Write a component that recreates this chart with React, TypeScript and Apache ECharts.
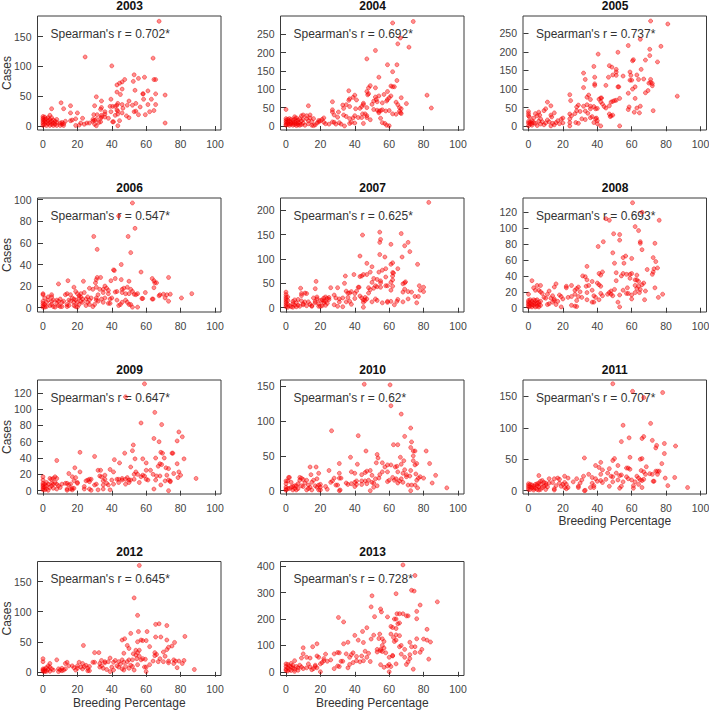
import React, { useEffect, useRef } from "react";
import * as echarts from "echarts";

const xTicks = [0, 20, 40, 60, 80, 100];
const years = ["2003","2004","2005","2006","2007","2008","2009","2010","2011","2012","2013"];
const rhoLabels = ["Spearman's r = 0.702*","Spearman's r = 0.692*","Spearman's r = 0.737*","Spearman's r = 0.547*","Spearman's r = 0.625*","Spearman's r = 0.693*","Spearman's r = 0.647*","Spearman's r = 0.62*","Spearman's r = 0.707*","Spearman's r = 0.645*","Spearman's r = 0.728*"];
const yTicks = [[0,50,100,150],[0,50,100,150,200,250],[0,50,100,150,200,250],[0,20,40,60,80,100],[0,50,100,150,200],[0,20,40,60,80,100,120],[0,20,40,60,80,100,120],[0,50,100,150],[0,50,100,150],[0,50,100,150],[0,100,200,300,400]];
const yRanges = [[-6.7,184.8],[-11,300],[-10,296.5],[-4,101.6],[-8.8,225],[-5.4,138],[-4.1,135.7],[-4.8,159],[-5.3,176],[-6,183.5],[-14,418]];

const p2003 = [[67.5,176],[24.5,116],[40,101],[64,114],[53,86],[59,82],[55.5,80],[52.5,75],[64.5,78],[65.5,78],[47.5,78],[46,74],[44.5,72],[43,69],[46,62],[53.5,60],[61,59],[43,57],[45,53],[58,54],[58.3,54],[65.5,54],[71,52],[31,49],[39.5,45],[34,42],[58.5,45],[63,45],[50,42],[10.5,39],[54,38],[49,35],[52,35],[61,36],[65.5,36],[43.5,38],[46,36],[43,35],[5,29],[12,29],[16,34],[30,34],[39,33],[40.5,33],[42,33],[34,31],[46.5,30],[56.5,32],[33.5,28],[43,27],[43.5,25],[53,24],[54,25],[64.5,26],[62,24],[16,22],[20,22],[36,24],[39.5,24],[36,20],[46,22],[59.5,19],[55.5,19],[29.5,19],[31.5,19],[34,18],[42,18],[43.5,20],[48.5,17],[50,14],[34,15],[36,15],[38,13],[33.5,13],[31,11],[29,11],[23,13],[19,12],[16,9],[17,10],[13,8],[33.5,7],[32.5,6],[44.5,9],[40.5,7],[41,7],[71,5],[43.5,0.5],[31,0.5],[30,3],[19,1],[21,1.5],[22,5],[24,3],[25.5,5],[27,5],[29,8],[30,10],[0,16],[0,13],[0,10],[0,7],[0,4],[0,1],[1,15],[1,11],[1,8],[1,3],[2,12],[2,6],[2,1],[3,14],[3,9],[3,4],[4,18],[4,11],[4,6],[4,1],[5,14],[5,8],[5,3],[6,10],[6,5],[6,1],[7,8],[7,3],[8,11],[8,6],[8,1],[10,5],[10,1],[11,3],[11,6],[12,1],[12,4]];
const p2004 = [[74,285],[62,281],[71.5,215],[65,224],[66.5,240],[52,206],[47,183],[59,167],[64.5,167],[62,148],[54,133],[64.5,124],[82,84],[84.5,49],[61,109],[62,107],[63,107],[49,110],[48,104],[52,104],[36.5,96],[47,94],[48,88],[47.5,85],[59,94],[57,86],[61,82],[67,77],[40,84],[39,78],[37,74],[36.5,70],[41,71],[27,66],[60,77],[59,72],[58.5,68],[54,82],[52,79],[52.5,72],[51,68],[50,59],[53,66],[56,63],[64,65],[65,58],[70,61],[45,62],[45,58],[47,50],[37,53],[35,58],[33,57],[33.5,48],[40.5,47],[43,48],[44,53],[66,50],[67,47],[13,55],[0,45],[27,44],[27,38],[28,30],[30,24],[30.5,38],[33.5,30],[35,26],[37,20],[39,22],[40,28],[42,23],[44,23],[44.5,33],[46,33],[47,28],[47,23],[49,17],[51,45],[53,43],[54,40],[55,42],[54,36],[56,44],[58,41],[60,42],[62,33],[64,32],[66,40],[66.5,36],[67,34],[55,21],[56,9],[57.5,7],[58.5,2],[60,0.5],[45,7],[34,0],[32,5],[37,7],[38,10],[40,8],[27,11],[28,10],[22,22],[21,18],[19,15],[22,10],[23,6],[25,5],[29,5],[31,9],[0,20],[0,15],[0,10],[0,5],[0,2],[1,18],[1,12],[1,8],[1,4],[2,20],[2,14],[2,6],[2,2],[3,18],[3,10],[3,5],[4,15],[4,8],[4,2],[5,25],[5,19],[5,10],[5,4],[6,22],[6,14],[6,7],[6,1],[7,16],[7,10],[7,3],[8,20],[8,8],[8,2],[9,28],[9,14],[9,4],[10,30],[10,18],[10,8],[11,2],[12,28],[12,20],[13,14],[13,6],[14,30],[14,22],[15,2],[15,12],[16,20],[16,1],[17,3],[18,8],[19,11],[20,14]];
const p2005 = [[71,283],[81,275],[65,234],[58,217],[77,215],[70.5,207],[52,199],[40.5,194],[70.5,190],[75,173],[68,178],[61,179],[60.5,176],[38,161],[47,163],[48.5,159],[51,153],[51,146],[65.5,153],[59,146],[32,143],[49,138],[51,137],[55,135],[59.5,137],[63,138],[33,126],[38.5,132],[46.5,132],[59,124],[60,124],[64,126],[67,127],[71,126],[71,118],[70,116],[72,109],[72,115],[38.5,114],[38.5,110],[45,110],[52,106],[52.5,106],[62,106],[60.5,100],[32,104],[58,89],[68,90],[69.5,96],[86.5,81],[24,85],[34,78],[35,84],[24.5,69],[36,72],[41,73],[42,76],[42.5,76],[62,75],[53,75],[51,70],[50,69],[48,65],[49,67],[42,66],[43,60],[44,53],[47,55],[45,49],[38,53],[36,54],[34,58],[32,54],[29,57],[28,52],[11,65],[13,55],[10,47],[9,42],[6,38],[4,34],[6.5,30],[13,30],[13.5,25],[15,36],[0,40],[0,34],[0,28],[0.5,25],[2,15],[3,22],[5,28],[39,47],[36,47],[40,48],[33,41],[28,42],[30,40],[27,34],[24,33],[25,28],[24,20],[27.5,10],[29,8],[31,20],[33,18],[34.5,35],[37,26],[39,20],[36,23],[39.5,22],[40,15],[38,10],[40,7],[42,1],[53,1],[47,33],[48,28],[49,30],[47.5,26],[58,45],[58.5,52],[61.5,38],[64.5,36],[63,49],[65,54],[72.5,42],[24,10],[24,1],[20,22],[19,19],[17,15],[20,9],[18,7],[16,10],[15,4],[14,8],[13,1],[12,12],[11,17],[10,9],[9,4],[8,12],[7,20],[7,6],[6,14],[5,2],[4,8],[3,10],[2,3],[1,12],[1,6],[0,1],[0,8],[0,13],[2,8]];
const p2006 = [[52,97],[44,85],[53.5,73.5],[29.5,66],[49.5,66],[31.5,54],[51,51],[45.5,40],[41,35],[41.5,34.5],[57,33],[42,27],[31.5,28],[33.5,28],[31,26],[30.5,23],[14.5,25],[23.5,24.5],[9,22],[39.5,25],[45.5,26],[50,24.5],[63.5,27],[64.5,25],[65,23],[66,23],[73,28],[64.5,18.5],[68,12],[70,12.5],[72,12],[74,12.5],[86.5,13],[80.5,9],[71,9],[73,6],[59.5,14],[58,8.5],[63.5,8],[64,8],[67.5,11],[55,13],[53,12.5],[54,12],[52,15],[51,17],[49,19],[47,18],[46,17],[46,14],[48,13],[50,13],[43,15],[42,14.5],[37,18],[38,16],[36,20],[35,17],[38,13],[35,14],[33,17],[31,19],[29,17],[27,18],[24,14],[22,13],[21,11],[19,15],[18,19],[20,13],[16,12],[14,13],[13,12],[5,12],[0,13],[0,12],[1,9],[3,10],[5,10],[6,7],[8,7],[9,6],[10,8],[11,5],[14,1],[14,3],[15,2],[16,6],[18,5],[18,2],[19,1],[20,0.5],[21,3],[22,6],[23,8],[25,8],[26,5],[27,3],[28,9],[26,10],[27,7],[25,2],[29,1],[30,3],[31,9],[32,6],[31,7],[32,12],[34,8],[35,5],[36,9],[38,4],[39,4],[40,9],[39,8],[43,7],[44,2],[45,3],[46,5],[48,7],[49,5],[50,3],[51,3],[52,0.5],[55,0.5],[57.5,8.5],[0,0.5],[0,2],[0,4],[0,6],[1,0.5],[1,3],[2,1],[2,5],[3,7],[4,2],[5,3],[5,6],[6,1],[7,0.5],[8,4],[9,2],[10,1],[11,1],[12,6],[15,7],[17,9],[18,8],[19,7],[20,5],[21,9],[22,10],[23,5]];
const p2007 = [[83,216],[54.5,155],[67,152],[44.5,149],[55,140],[71,134],[54.5,134],[61,130],[69,127],[72,115],[54.5,109],[43,106],[57.5,104],[67.5,104],[47,91],[62,92],[61,89],[76.5,89],[50,84],[58,80],[65,80],[56,77],[54,73],[49,73],[62,72],[62.5,71],[62,65],[58,63],[34.5,65],[39.5,68],[43,64],[44,65],[45,68],[47,68],[51,60],[53,58],[55,55],[55,51],[62,57],[61,52],[68,49],[69,51],[69.5,53],[17.5,54],[34,50],[50,52],[52,45],[58,45],[59,45],[62,44],[77.5,45],[8.5,40],[26,41],[30,41],[17,39],[42,42],[42.5,42],[48,41],[51,40],[53,43],[55,42],[61,36],[68,32],[69,38],[71,33],[73,32],[78,36],[80,42],[80,33],[75,23],[77,23],[76,10],[71,18],[68,12],[64.5,13],[65,17],[63,6],[61,13],[56,10],[59,11],[59,13],[52,18],[53,15],[50,12],[47,18],[45,16],[45,11],[45,1],[46,15],[43,24],[40,29],[38,33],[36,30],[35,34],[36,21],[33,20],[37,13],[38,7],[33,2],[31,12],[31,18],[29,20],[28,26],[30,3],[28,6],[25,17],[23,22],[24,19],[22,10],[23,5],[20,15],[21,16],[18,22],[18,18],[17,10],[19,3],[20,3],[15,4],[13,12],[12,4],[12,29],[11,30],[9,29],[9,25],[10,8],[8,3],[7,17],[6,10],[5,5],[5,16],[4,13],[4,8],[3,2],[1,22],[0,32],[0,27],[0,22],[0,18],[0,14],[0,10],[0,6],[0,2],[1,15],[1,7],[1,1],[2,4],[4,1],[6,2],[7,5],[9,14],[10,6],[11,12],[14,7],[15,3],[16,20],[17,13],[19,8],[21,4],[23,13],[24,9],[25,21],[22,20],[22,14],[48,30],[40,19],[41,34],[44,20],[49,37],[35,12],[37,30],[46,21]];
const p2008 = [[60.5,132],[66,120],[76,110],[45,112],[47,110],[62,102],[64,97],[49.5,93],[53,92],[53,85],[43.5,83],[65,83],[65,81],[73.5,81],[40.5,77],[66,73],[49,69],[72.5,63],[55,63],[56.5,65],[60,62],[74,58],[34,52],[50,56],[55.5,56],[73,49],[69,48],[75,50],[72.5,45],[72,42],[41,43],[42,41],[43,45],[51,44],[55,43],[54,40],[57,42],[59,42],[60,43],[63,41],[31.5,40],[33,39],[34,35],[59,37],[62,35],[63,35],[64,33],[51,34],[67,31],[66,29],[64,27],[62,28],[40,31],[41,29],[42,27],[37,33],[35,28],[33.5,27],[29,26],[28,24],[27,22],[30,20],[25,28],[22,27],[22,25],[16,30],[15,26],[2,34],[5,28],[4,22],[7,28],[3,25],[6,22],[7,20],[8,18],[0,17],[12,21],[11,17],[9,13],[14,15],[18,16],[19,14],[20,11],[23,13],[25,14],[27,17],[29,14],[31,13],[34,19],[34,10],[37,22],[38,15],[37,7],[38,7],[42,18],[43,15],[47,19],[48,21],[46,17],[48,17],[49,15],[50,23],[53,16],[55,22],[57,18],[57.5,25],[58,18],[60,16],[60,11],[62,19],[63,24],[64.5,19],[65,23],[68,21],[67.5,10],[75.5,13],[78,17],[73.5,25],[52,7],[53,1],[25,3],[27,2],[28,1.5],[28,9],[19,1],[13,12],[12,5],[11,4],[15,11],[15,9],[14,7],[16,4],[17,8],[0,1],[0,3],[0,5],[0,7],[0,9],[1,2],[1,6],[1,10],[2,1],[2,4],[2,8],[3,3],[3,6],[3,10],[4,1],[4,5],[4,9],[5,2],[5,6],[5,10],[6,1],[6,4],[6,7],[7,3],[7,8],[10,12],[39,13],[41,10]];
const p2009 = [[59,131],[48,115],[65,96],[57,83],[69,81],[79,72],[81,66],[64.5,64],[67.5,60],[78,61],[52.5,56],[21.5,47],[8,37],[30,42],[47.5,46],[52,49],[68.5,47],[69.5,46],[75,46],[75.5,46],[82,39],[41.5,38],[44.5,34],[53.5,39],[58,39],[60,34],[65.5,40],[70.5,40],[78,33],[51,29],[39,26],[41,23],[32,25],[33.5,25],[18.5,28],[21.5,23],[15,21],[17,17],[19,16],[13,9],[16,8],[18,12],[20,10],[62.5,25],[60,25],[54,23],[55,20],[53,20],[67,30],[68,33],[69,32],[71.5,28],[73,27],[76,21],[79,23],[80,19],[78.5,16],[72,19],[73,13],[74,11],[73,0],[64.5,2],[68.5,7],[89,15],[66,18],[68,18],[65.5,13],[60,14],[57,17],[58,19],[59,18],[61,13],[56,10],[53,14],[51,13],[49,16],[48,8],[50,13],[46,15],[44,14],[43,14],[44,10],[40,13],[41,8],[37,9],[38,7],[39,1],[36,14],[34,17],[35,12],[33,18],[36,19],[35,7],[35,2],[32,1],[31,8],[30,7],[28,14],[27,11],[27,14],[25,12],[26,13],[24,5],[24,2],[27,2],[28,0.5],[20,9],[18,3],[17,1],[14,2],[14,0.5],[14,9],[11,8],[8,8],[9,6],[8,15],[7,17],[6,15],[4,15],[5,14],[0,17],[0,13],[0,9],[0,7],[0,5],[0,3],[0,1],[1,8],[1,4],[1,1],[2,6],[2,2],[2,10],[3,8],[3,0.5],[4,4],[5,9],[5,6],[6,8],[6,3],[7,10],[8,2],[10,4],[15,7],[16,2],[17,3],[71,12],[74,12],[64,20],[46,13],[48,14],[50,10]];
const p2010 = [[45.5,153],[60.5,152],[61,122],[67,110],[72.5,90],[26.5,86],[42,79],[69,78],[73,70],[72.5,62],[74,57],[75,57],[46.5,57],[62.5,66],[65,66],[81.5,57],[53,52],[53.5,47],[37.5,48],[66.5,48],[74,50],[74,43],[76,39],[75,37],[83.5,39],[31,39],[41.5,38],[52.5,40],[56,40],[59,37],[61,37],[63.5,34],[64.5,35],[67,38],[68.5,43],[14,34],[17.5,34],[57.5,34],[25,29],[38,27],[40,25],[19,25],[14.5,23],[44,23],[46,26],[47,28],[49,29],[54.5,23],[56,27],[59,27],[65,27],[68,25],[69,30],[70,23],[72.5,29],[75.5,24],[72,21],[70,20],[87,22],[85,11],[93.5,4],[80,18],[78,20],[76,15],[77,18],[73,8],[75,8],[76.5,4],[72.5,0],[71,8],[68,12],[66,14],[67,17],[65,11],[64,17],[62,19],[63,15],[60,15],[59,13],[54,18],[52,17],[51,11],[50,12],[51,5],[49,0],[53,7],[50,22],[48,15],[46,14],[47,10],[44,14],[44,9],[41,9],[40,6],[40,12],[41,14],[38,10],[36,9],[35,11],[31,0],[31.5,1],[30,8],[29,8],[31,18],[32,18],[31,25],[28,18],[27,14],[26,12],[24,2],[23,6],[20,9],[20,1],[20,5],[18,5],[17,7],[18,17],[16,15],[15,12],[15,1],[14,5],[13,8],[12,15],[11,11],[10,6],[10,16],[9,18],[8,19],[8,15],[7,10],[7,3],[6,1],[6,7],[5,3],[5,7],[4,1],[4,6],[3,12],[3,5],[2,19],[1.5,19],[1,14],[1,3],[0,14],[0,10],[0,5],[0,2],[2,3],[0,0.5],[9,7],[12,1],[13,3],[19,8],[19,1]];
const p2011 = [[49,170],[60.5,158],[67,148],[78,156],[55,104],[71,107],[58.5,84],[66,83],[67,86],[54,78],[72,80],[79,75],[74.5,72],[74,68],[85.5,71],[79,59],[32.5,52],[50,51],[49,48],[59,53],[65,50],[66,51],[42,45],[39,40],[41,37],[43,33],[47,35],[52,40],[77.5,43],[57,36],[58,36],[59,34],[65.5,32],[67,30],[68,26],[68.5,38],[70.5,27],[72,26],[74,31],[75,31],[76,31],[75,26],[79.5,20],[85,21],[81,8],[92.5,5],[72.5,15],[73,15],[42,26],[35,26],[37,21],[39,19],[32,23],[31,17],[30,12],[29,7],[32.5,0],[33,0.5],[36,5],[37,12],[38,8],[38,5],[40,15],[42,16],[43,13],[45,18],[46,28],[48,23],[49,22],[49,14],[47,7],[51,28],[53,24],[54,25],[52,17],[53,4],[54,7],[55,14],[57,22],[58,19],[60,17],[61,8],[62,14],[63,23],[64,20],[65,17],[66,16],[67,18],[64,10],[61,4],[66,5],[6,24],[12,19],[15,19],[17,20],[18,18],[21,23],[23,20],[26,14],[28,19],[21,13],[22,10],[23,5],[22,3],[20,10],[18,12],[16,8],[15,3],[15,1],[14,13],[12,12],[11,6],[10,2],[10,9],[9,13],[8,16],[8,5],[7,10],[7,15],[6,1],[6,6],[6,12],[5,8],[5,2],[4,10],[4,4],[3,7],[3,1],[2,5],[2,9],[1,10],[1,6],[1,2],[0,11],[0,8],[0,5],[0,2],[10,12],[9,7],[7,2],[5,11],[3,4],[21,5],[19,7],[29,5]];
const p2012 = [[56,177],[53,123],[55,94],[65.5,79],[67.5,80],[72,77],[23.5,44],[55.5,67],[60.5,67],[51,64],[82.5,59],[65.5,58],[68.5,58],[72,53],[46,53],[47.5,55],[55,50],[57,53],[58,52],[60,52],[62,42],[49,44],[50,39],[52.5,30],[54,36],[56,36],[55,32],[30,32],[32.5,32],[47,31],[54,28],[56,26],[54.5,22],[58,22],[59.5,21],[65,32],[66,29],[70,33],[72,37],[75,43],[76.5,49],[73,41],[71,26],[68,22],[67,17],[70,17],[73,15],[73,18],[76,20],[77,18],[76,14],[79,18],[82,19],[81,14],[78,7],[88,4],[60,0.5],[62,12],[64,18],[65,27],[60,8],[59,8],[57,20],[55,12],[52,9],[51,11],[53,3],[50,6],[49,17],[46,20],[47,16],[44,17],[42,19],[41,16],[39,23],[38,17],[36,15],[36,17],[34,19],[33,14],[33,8],[35,6],[37,4],[39,0.5],[40,8],[41,3],[44,8],[46,5],[47,3],[48,9],[30,16],[29,16],[27,9],[26,6],[27,2],[24,9],[23,5],[23,14],[22,8],[21,16],[20,10],[20,6],[18,7],[19,3],[17,10],[15,10],[14,16],[13,14],[13,5],[11,2],[11,6],[10,3],[9,0.5],[8,20],[9,5],[4,14],[4,8],[3,10],[3,4],[2,1],[2,7],[1,2],[1,5],[0,22],[0,17],[0,3],[0,1],[4,1],[5,5],[6,3],[25,11],[26,2],[34,10],[43,10],[45,13],[0,5],[1,0.5],[12,3],[50,20],[52,20]];
const p2013 = [[68,405],[75,365],[73,309],[74.5,306],[64,296],[50,288],[88,265],[78,253],[49.5,246],[55,238],[55.5,227],[76,229],[63,200],[64,200],[66,220],[64.5,220],[68,220],[70,212],[71,212],[76,201],[51.5,209],[59,208],[30.5,206],[33.5,189],[47,167],[44.5,153],[62,168],[61,172],[64,164],[66,185],[65,182],[40,138],[42,120],[45,111],[49.5,124],[51,139],[54,126],[54.5,143],[61,143],[64,140],[66,137],[62.5,130],[64,120],[63,115],[56,125],[57,115],[76,125],[80,124],[82,161],[82,120],[84,113],[72,112],[73,95],[75,95],[75,73],[78,74],[79,85],[83,48],[10,91],[15.5,95],[18,106],[33.5,106],[36,112],[30,73],[31,72],[28,68],[35,68],[38,65],[39,72],[37,55],[41,58],[44,60],[46,78],[48,70],[49,39],[53,85],[53,75],[55,80],[55,85],[56,77],[58,72],[56,100],[57,90],[66,95],[67,100],[69,85],[62,60],[60,55],[61,20],[62,62],[64,30],[67,67],[70,28],[71,38],[72,50],[72,65],[69,55],[74,10],[60,0],[59,22],[57,17],[55,27],[60,28],[20,0],[17,20],[18,60],[19,55],[23,67],[24,40],[22,50],[21,35],[26,45],[28,12],[30,22],[31,20],[32,40],[33,40],[36,15],[37,28],[39,35],[41,42],[43,38],[45,42],[47,55],[10,68],[12,55],[14,52],[9,52],[5,42],[3,32],[0,30],[0,20],[0,10],[0,5],[1,28],[1,15],[2,22],[2,8],[3,5],[4,15],[4,25],[5,10],[6,20],[7,15],[8,25],[9,18],[10,12],[12,15],[13,30],[14,18],[15,8],[16,12],[17,25],[18,15],[20,30],[22,42],[1,3],[3,18],[5,2],[7,6]];
const allPoints = [p2003,p2004,p2005,p2006,p2007,p2008,p2009,p2010,p2011,p2012,p2013];

const colLeft = [37.5, 280.5, 523];
const rowTop = [16, 198, 380, 561.5];
const plotW = 183.5;
const plotH = 114;
const font = "'Liberation Sans', Arial, sans-serif";
const inkAxis = "#3a3a3a";
const inkText = "#333";

export default function App() {
  const ref = useRef<HTMLDivElement>(null);
  useEffect(() => {
    document.body.style.margin = "0";
    const chart = echarts.init(ref.current!, null, { renderer: "svg" });
    const grid: any[] = [], xAxis: any[] = [], yAxis: any[] = [], series: any[] = [], graphic: any[] = [];
    years.forEach((year, i) => {
      const col = i % 3, row = Math.floor(i / 3);
      const left = colLeft[col], top = rowTop[row];
      grid.push({ left, top, width: plotW, height: plotH, show: true, borderColor: inkAxis, borderWidth: 1, backgroundColor: "#fff", containLabel: false, outerBoundsMode: "none" });
      const showX = i >= 8;
      const showY = col === 0;
      xAxis.push({
        type: "value", gridIndex: i, min: -3.2, max: 103.5, splitLine: { show: false },
        axisLine: { show: false },
        axisTick: { show: true, length: 5, customValues: xTicks, lineStyle: { color: inkAxis, width: 1 } },
        axisLabel: { show: true, customValues: xTicks, margin: 8, fontFamily: font, fontSize: 10.5, color: "#444" },
        name: showX ? "Breeding Percentage" : "", nameLocation: "middle", nameGap: 21, nameMoveOverlap: false,
        nameTextStyle: { fontFamily: font, fontSize: 12, color: inkText },
      });
      yAxis.push({
        type: "value", gridIndex: i, min: yRanges[i][0], max: yRanges[i][1], splitLine: { show: false },
        axisLine: { show: false },
        axisTick: { show: true, length: 5, customValues: yTicks[i], lineStyle: { color: inkAxis, width: 1 } },
        axisLabel: { show: true, customValues: yTicks[i], margin: 6, fontFamily: font, fontSize: 10.5, color: "#444" },
        name: showY ? "Cases" : "", nameLocation: "middle", nameGap: 25, nameMoveOverlap: false,
        nameTextStyle: { fontFamily: font, fontSize: 12, color: inkText },
      });
      series.push({
        type: "scatter", xAxisIndex: i, yAxisIndex: i, data: allPoints[i], symbol: "circle", symbolSize: 4, clip: false, silent: true,
        itemStyle: { color: "rgba(255,0,0,0.55)", borderColor: "rgba(235,0,0,0.65)", borderWidth: 0.8 },
        z: 3,
      });
      graphic.push({ type: "text", left: left + plotW / 2 - 13, top: top - 16, z: 5, style: { text: year, font: `bold 12px ${font}`, fill: "#111" } });
      graphic.push({ type: "text", left: left + 13, top: top + 11.5, z: 1, style: { text: rhoLabels[i], font: `12px ${font}`, fill: inkText } });
    });
    chart.setOption({ animation: false, backgroundColor: "#fff", grid, xAxis, yAxis, series, graphic });
    return () => chart.dispose();
  }, []);
  return <div ref={ref} style={{ width: 709, height: 711 }} />;
}
